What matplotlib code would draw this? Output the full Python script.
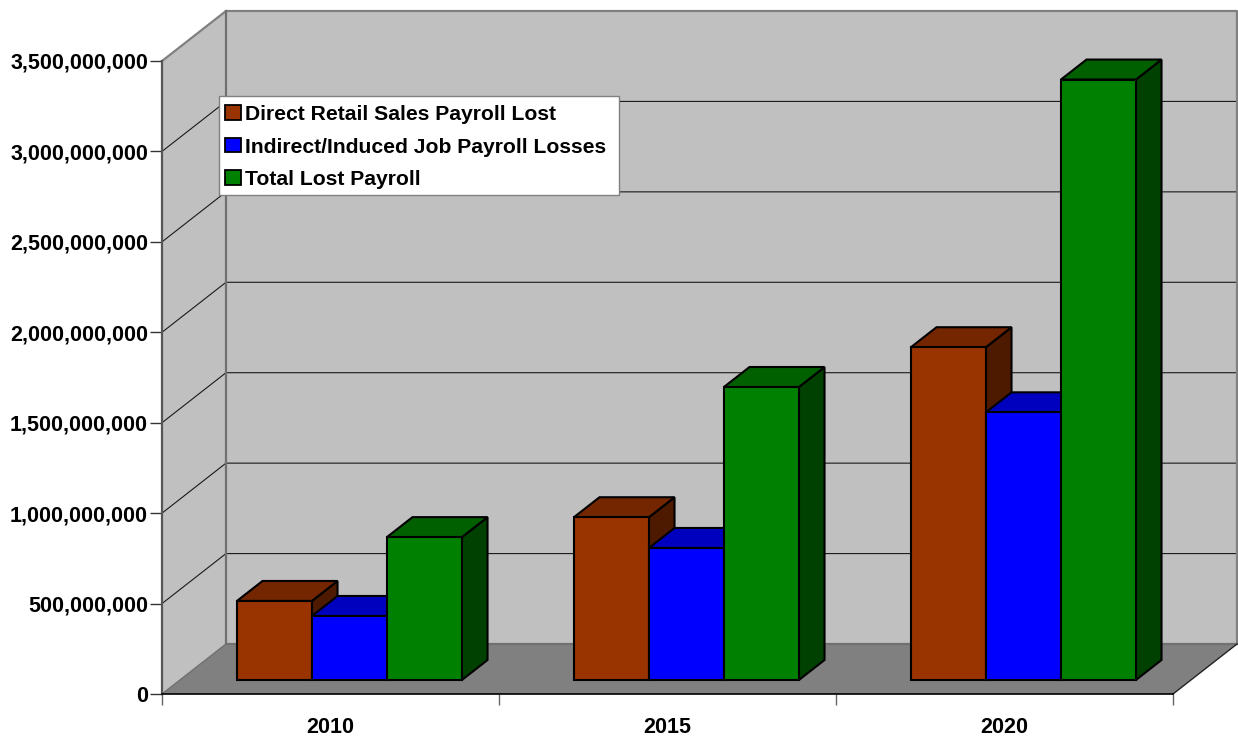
import matplotlib
matplotlib.use("Agg")
import matplotlib.pyplot as plt
from matplotlib.patches import Patch, Polygon, Rectangle
from matplotlib.ticker import FuncFormatter

plt.rcParams["font.family"] = ["Liberation Sans", "DejaVu Sans"]
plt.rcParams["font.weight"] = "bold"

# data
years = ["2010", "2015", "2020"]
direct = [437e6, 900e6, 1840e6]
indirect = [354e6, 730e6, 1480e6]
total = [790e6, 1620e6, 3320e6]
series_names = ["Direct Retail Sales Payroll Lost",
                "Indirect/Induced Job Payroll Losses",
                "Total Lost Payroll"]
y_ticks = [0, 500e6, 1000e6, 1500e6, 2000e6, 2500e6, 3000e6, 3500e6]

# colours: front, top, side
browns = ["#993300", "#732600", "#4d1a00"]
blues = ["#0000ff", "#0000bf", "#000080"]
greens = ["#008000", "#006000", "#004000"]

W, H = 1238, 737
fig = plt.figure(figsize=(W / 100, H / 100), dpi=100, facecolor="white")
ax = fig.add_axes([162 / W, (H - 694) / H, 1011 / W, 633 / H])
ax.set_xlim(0, 3)
ax.set_ylim(0, 3500e6)
for s in ax.spines.values():
    s.set_visible(False)

# depth of the box in data units
depth_x = 64 / 337
depth_y = 50 * 3500e6 / 633
top = y_ticks[-1]


def poly(pts, color, edge="none", lw=0, z=1):
    ax.add_patch(Polygon(pts, closed=True, facecolor=color, edgecolor=edge,
                         linewidth=lw, zorder=z, clip_on=False, joinstyle="miter"))


# walls and floor
poly([(0, 0), (depth_x, depth_y), (depth_x, top + depth_y), (0, top)], "#c0c0c0")
poly([(depth_x, depth_y), (3 + depth_x, depth_y), (3 + depth_x, top + depth_y),
      (depth_x, top + depth_y)], "#c0c0c0")
poly([(0, 0), (3, 0), (3 + depth_x, depth_y), (depth_x, depth_y)], "#808080")

# grid lines on both walls
for v in y_ticks[1:-1]:
    ax.plot([0, depth_x, 3 + depth_x], [v, v + depth_y, v + depth_y], color="#1a1a1a",
            lw=0.8, zorder=1.5, clip_on=False)

# wall borders
ax.plot([0, depth_x, 3 + depth_x, 3 + depth_x], [top, top + depth_y, top + depth_y, depth_y],
        color="#808080", lw=1.6, zorder=1.5, clip_on=False)
ax.plot([depth_x, depth_x, 3 + depth_x], [top + depth_y, depth_y, depth_y],
        color="#707070", lw=1.6, zorder=1.5, clip_on=False)
ax.plot([0, depth_x], [0, depth_y], color="#707070", lw=1, zorder=1.6, clip_on=False)
ax.plot([0, 0], [0, top], color="#555555", lw=1.6, zorder=1.6, clip_on=False)
ax.plot([3, 3 + depth_x], [0, depth_y], color="#222222", lw=1, zorder=1.6, clip_on=False)
ax.plot([0, 3], [0, 0], color="black", lw=1.2, zorder=1.6, clip_on=False)

# bars sit part way into the box
bar_w = 75 / 337
front = 14 / 50
back = 34 / 50
fx0 = front * depth_x + 1 / 337
base = front * depth_y
dx = (back - front) * depth_x
dy = (back - front) * depth_y

# left to right so the blue top covers the brown side, fronts go on last
for k, (vals, cols, off) in enumerate([(direct, browns, -1), (indirect, blues, 0), (total, greens, 1)]):
    for i, v in enumerate(vals):
        x0 = i + 0.5 - bar_w / 2 + off * bar_w + fx0
        x1 = x0 + bar_w
        y1 = base + v
        poly([(x1, base), (x1 + dx, base + dy), (x1 + dx, y1 + dy), (x1, y1)], cols[2],
             "black", 1.5, 2 + k)
        poly([(x0, y1), (x1, y1), (x1 + dx, y1 + dy), (x0 + dx, y1 + dy)], cols[1],
             "black", 1.5, 2 + k)

for vals, cols, off in [(direct, browns, -1), (indirect, blues, 0), (total, greens, 1)]:
    xs = [i + 0.5 + off * bar_w + fx0 for i in range(len(vals))]
    ax.bar(xs, vals, bar_w, bottom=base, color=cols[0], edgecolor="black", linewidth=1.5,
           zorder=6, clip_on=False)

# axes
ax.set_yticks(y_ticks)
ax.yaxis.set_major_formatter(FuncFormatter(lambda v, p: f"{int(v):,}"))
ax.set_xticks([0, 1, 2, 3])
ax.set_xticklabels([])
ax.set_xticks([0.5, 1.5, 2.5], minor=True)
ax.set_xticklabels(years, minor=True)
ax.tick_params(axis="y", length=8.5, width=1, color="#333333", pad=1.5, labelsize=15.5)
ax.tick_params(axis="x", which="major", length=8, width=1, color="#666666")
ax.tick_params(axis="x", which="minor", length=0, pad=16.5, labelsize=15.5)
for t in ax.get_yticklabels() + ax.get_xticklabels(minor=True):
    t.set_fontweight("bold")

# legend box is separate so its size can be set exactly
fig.add_artist(Rectangle((219 / W, (H - 195) / H), 400 / W, 99 / H, transform=fig.transFigure,
                         facecolor="white", edgecolor="#808080", linewidth=1, zorder=9))
handles = [Patch(facecolor=c[0], edgecolor="black", linewidth=1.3) for c in (browns, blues, greens)]
leg = fig.legend(handles, series_names, loc="upper left", bbox_to_anchor=(218.5 / W, (H - 98) / H),
                 fontsize=15.25, frameon=False, borderaxespad=0, borderpad=0.33,
                 labelspacing=0.64, handlelength=0.72, handleheight=0.68, handletextpad=0.2)
leg.set_zorder(10)

fig.savefig("out.png", dpi=100)
